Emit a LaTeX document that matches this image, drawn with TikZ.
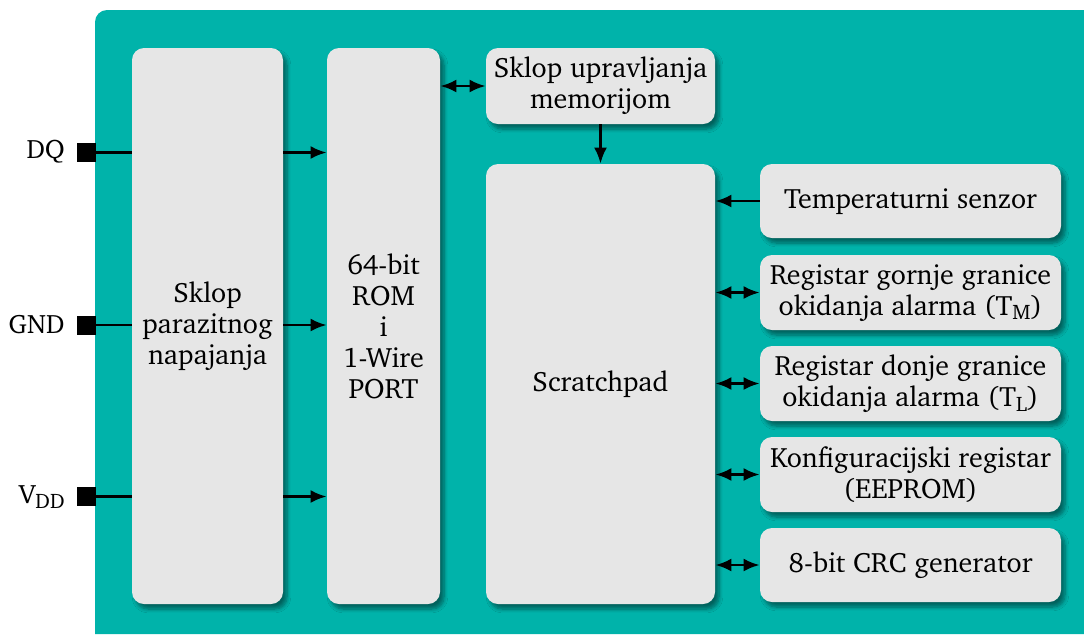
\documentclass[tikz,border=0pt]{standalone}
\usepackage[T1]{fontenc}
\usepackage{charter}
\usetikzlibrary{arrows.meta,shadows.blur}

\definecolor{tirkiz}{RGB}{0,179,170}
\definecolor{blok}{RGB}{230,230,230}

\newcommand{\ind}[1]{\raisebox{-0.35ex}{\fontsize{10.5}{10.5}\selectfont #1}}

\tikzset{
    kutija/.style={rounded corners=6pt, fill=blok, align=center, inner sep=2pt,
        font=\fontsize{14}{15.5}\selectfont,
        blur shadow={shadow xshift=2pt, shadow yshift=-2.5pt, shadow blur steps=6, shadow opacity=45}},
    pin/.style={fill=black, minimum size=9.5pt, inner sep=0pt},
    pinlabel/.style={font=\fontsize{13.3}{15}\selectfont, inner sep=0pt},
    veza/.style={line width=1.3pt, -{Latex[length=8pt,width=6.5pt]}},
    dvoveza/.style={line width=1.3pt, {Latex[length=8pt,width=6.5pt]}-{Latex[length=8pt,width=6.5pt]}},
    linija/.style={line width=1.3pt}
}

\begin{document}
\begin{tikzpicture}[x=0.5pt, y=-0.5pt]
    \useasboundingbox (0,0) rectangle (1084,634);

    % Pozadina
    \fill[white] (0,0) rectangle (1084,634);
    \fill[tirkiz] (95,634) [rounded corners=6pt] -- (95,10) [sharp corners] -- (1084,10) -- (1084,634) -- cycle;

    % Blokovi
    \node[kutija, minimum width=75.5pt, minimum height=278pt] (paraz) at (207.5,326) {Sklop\\parazitnog\\napajanja};
    \node[kutija, minimum width=56.5pt, minimum height=278pt] (rom) at (383.5,326) {64-bit\\ROM\\i\\1-Wire\\PORT};
    \node[kutija, minimum width=114.5pt, minimum height=38pt] (sklop) at (600.5,86) {Sklop upravljanja\\memorijom};
    \node[kutija, minimum width=114.5pt, minimum height=220pt] (scratch) at (600.5,384) {Scratchpad};

    \node[kutija, minimum width=150.5pt, minimum height=37pt] (temp) at (910.5,201) {Temperaturni senzor};
    \node[kutija, minimum width=150.5pt, minimum height=37.5pt] (regm) at (910.5,292.5) {Registar gornje granice\\okidanja alarma (T\ind{M})};
    \node[kutija, minimum width=150.5pt, minimum height=37.5pt] (regl) at (910.5,383.5) {Registar donje granice\\okidanja alarma (T\ind{L})};
    \node[kutija, minimum width=150.5pt, minimum height=37.5pt] (konf) at (910.5,474.5) {Konfiguracijski registar\\(EEPROM)};
    \node[kutija, minimum width=150.5pt, minimum height=37pt] (crc) at (910.5,565) {8-bit CRC generator};

    % Izvodi
    \node[pin] (dq) at (86.5,152.5) {};
    \node[pin] (gnd) at (86.5,325) {};
    \node[pin] (vdd) at (86.5,496.5) {};
    \node[pinlabel, anchor=east] (dqlab) at (65,152) {DQ};
    \node[pinlabel, anchor=east] (gndlab) at (65,325) {GND};
    \node[pinlabel, anchor=east] (vddlab) at (65,497) {V\ind{DD}};

    % Veze
    \foreach \p in {dq, gnd, vdd}{
        \draw[linija] (\p) -- (\p -| paraz.west);
        \draw[veza] (\p -| paraz.east) -- (\p -| rom.west);
    }
    \draw[dvoveza] (rom.east |- sklop) -- (sklop.west);
    \draw[veza] (sklop.south) -- (scratch.north);
    \draw[veza] (temp.west) -- (temp -| scratch.east);
    \foreach \r in {regm, regl, konf, crc}{
        \draw[dvoveza] (\r -| scratch.east) -- (\r.west);
    }
\end{tikzpicture}
\end{document}
